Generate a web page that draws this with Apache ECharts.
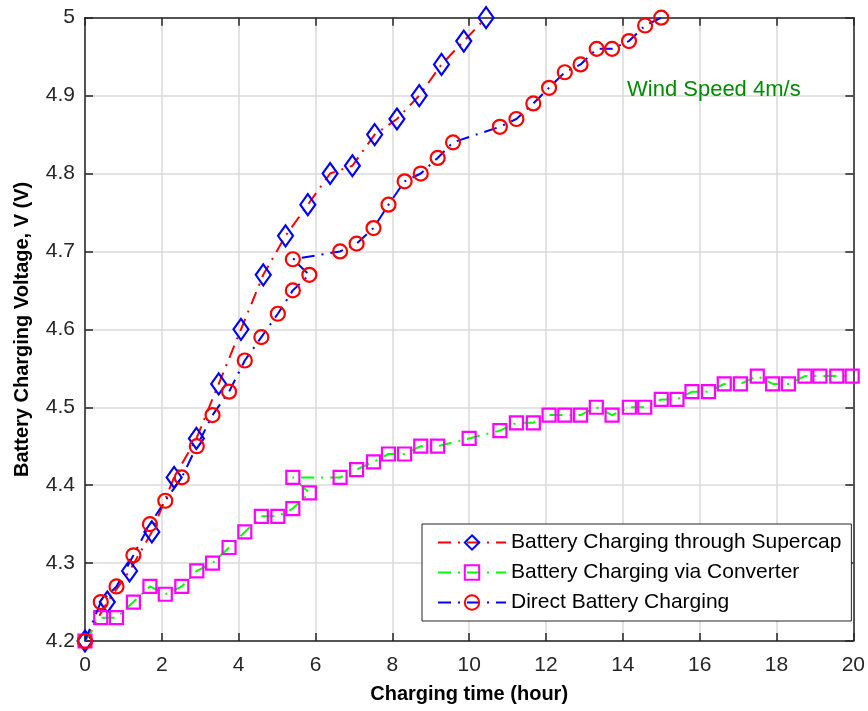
<!DOCTYPE html>
<html>
<head>
<meta charset="utf-8">
<script src="https://cdn.jsdelivr.net/npm/echarts@6/dist/echarts.min.js"></script>
<style>
html,body{margin:0;padding:0;background:#fff;}
#chart{width:868px;height:711px;}
</style>
</head>
<body>
<div id="chart"></div>
<script>
// Battery Charging through Supercap
var supercapX = [0, 0.58, 1.16, 1.74, 2.32, 2.90, 3.48, 4.06, 4.64, 5.22, 5.80, 6.38, 6.96, 7.54, 8.12, 8.70, 9.28, 9.86, 10.44];
var supercapY = [4.20, 4.25, 4.29, 4.34, 4.41, 4.46, 4.53, 4.60, 4.67, 4.72, 4.76, 4.80, 4.81, 4.85, 4.87, 4.90, 4.94, 4.97, 5.00];

// Battery Charging via Converter
var converterX = [0, 0.41, 0.82, 1.26, 1.69, 2.09, 2.52, 2.91, 3.32, 3.75, 4.16, 4.59, 5.02, 5.41, 5.84, 5.41, 6.64, 7.07, 7.51, 7.90, 8.32, 8.74, 9.18, 10.00, 10.80, 11.23, 11.67, 12.08, 12.49, 12.90, 13.31, 13.72, 14.17, 14.57, 15.00, 15.41, 15.80, 16.23, 16.64, 17.06, 17.50, 17.90, 18.31, 18.74, 19.13, 19.57, 19.97];
var converterY = [4.20, 4.23, 4.23, 4.25, 4.27, 4.26, 4.27, 4.29, 4.30, 4.32, 4.34, 4.36, 4.36, 4.37, 4.39, 4.41, 4.41, 4.42, 4.43, 4.44, 4.44, 4.45, 4.45, 4.46, 4.47, 4.48, 4.48, 4.49, 4.49, 4.49, 4.50, 4.49, 4.50, 4.50, 4.51, 4.51, 4.52, 4.52, 4.53, 4.53, 4.54, 4.53, 4.53, 4.54, 4.54, 4.54, 4.54];

// Direct Battery Charging
var directX = [0, 0.41, 0.82, 1.26, 1.69, 2.09, 2.52, 2.91, 3.32, 3.75, 4.16, 4.59, 5.02, 5.41, 5.84, 5.41, 6.64, 7.07, 7.51, 7.90, 8.32, 8.74, 9.18, 9.58, 10.80, 11.23, 11.67, 12.08, 12.49, 12.90, 13.32, 13.72, 14.16, 14.58, 15.00];
var directY = [4.20, 4.25, 4.27, 4.31, 4.35, 4.38, 4.41, 4.45, 4.49, 4.52, 4.56, 4.59, 4.62, 4.65, 4.67, 4.69, 4.70, 4.71, 4.73, 4.76, 4.79, 4.80, 4.82, 4.84, 4.86, 4.87, 4.89, 4.91, 4.93, 4.94, 4.96, 4.96, 4.97, 4.99, 5.00];

var seriesNames = ['Battery Charging through Supercap', 'Battery Charging via Converter', 'Direct Battery Charging'];
var xTicks = {min: 0, max: 20, interval: 2};
var yTicks = {min: 4.2, max: 5, interval: 0.1};
var annotation = 'Wind Speed 4m/s';

function zip(xs, ys) { return xs.map(function (x, i) { return [x, ys[i]]; }); }

var font = 'Arial, "Liberation Sans", Helvetica, sans-serif';
var dashDot = [13, 7, 2, 7];
var axisColor = '#262626';

var chart = echarts.init(document.getElementById('chart'), null, {renderer: 'canvas'});

function mkSeries(name, data, lineColor, symbol, size, markColor, z) {
  return {
    name: name, type: 'line', data: data, xAxisIndex: 0, yAxisIndex: 0,
    symbol: symbol, symbolSize: size, showAllSymbol: true,
    lineStyle: {color: lineColor, width: 2, type: dashDot},
    itemStyle: {color: 'rgba(255,255,255,0)', borderColor: markColor, borderWidth: 2.2},
    emphasis: {disabled: true}, animation: false, z: z
  };
}

var option = {
  backgroundColor: '#fff',
  animation: false,
  grid: {left: 85, right: 13, top: 17.7, bottom: 70, containLabel: false},
  xAxis: [{
    type: 'value', min: xTicks.min, max: xTicks.max, interval: xTicks.interval,
    position: 'bottom',
    name: 'Charging time (hour)', nameLocation: 'middle', nameGap: 43,
    nameTextStyle: {fontFamily: font, fontWeight: 'bold', fontSize: 20, color: '#000'},
    axisLine: {show: true, onZero: false, lineStyle: {color: axisColor, width: 1.5}},
    axisTick: {show: true, inside: true, length: 8, lineStyle: {color: axisColor, width: 1.5}},
    axisLabel: {fontFamily: font, fontSize: 21, color: axisColor, margin: 14},
    splitLine: {show: true, lineStyle: {color: '#dadada', width: 1.5}}
  }, {
    type: 'value', min: xTicks.min, max: xTicks.max, interval: xTicks.interval,
    position: 'top',
    axisLine: {show: true, onZero: false, lineStyle: {color: axisColor, width: 1.5}},
    axisTick: {show: true, inside: true, length: 8, lineStyle: {color: axisColor, width: 1.5}},
    axisLabel: {show: false}, splitLine: {show: false}
  }],
  yAxis: [{
    type: 'value', min: yTicks.min, max: yTicks.max, interval: yTicks.interval,
    position: 'left',
    name: 'Battery Charging Voltage, V (V)', nameLocation: 'middle', nameGap: 53,
    nameTextStyle: {fontFamily: font, fontWeight: 'bold', fontSize: 20, color: '#000'},
    axisLine: {show: true, onZero: false, lineStyle: {color: axisColor, width: 1.5}},
    axisTick: {show: true, inside: true, length: 8, lineStyle: {color: axisColor, width: 1.5}},
    axisLabel: {fontFamily: font, fontSize: 21, color: axisColor, margin: 10,
      formatter: function (v) { return String(Math.round(v * 10) / 10); }},
    splitLine: {show: true, lineStyle: {color: '#dadada', width: 1.5}}
  }, {
    type: 'value', min: yTicks.min, max: yTicks.max, interval: yTicks.interval,
    position: 'right',
    axisLine: {show: true, onZero: false, lineStyle: {color: axisColor, width: 1.5}},
    axisTick: {show: true, inside: true, length: 8, lineStyle: {color: axisColor, width: 1.5}},
    axisLabel: {show: false}, splitLine: {show: false}
  }],
  legend: {
    orient: 'vertical', left: 422, top: 524,
    data: seriesNames,
    backgroundColor: '#fff', borderColor: '#262626', borderWidth: 1,
    padding: [8, 10, 8, 15], itemGap: 9, itemWidth: 68, itemHeight: 18,
    textStyle: {fontFamily: font, fontSize: 21, color: '#000'},
    selectedMode: false
  },
  graphic: [{
    type: 'text', left: 627, top: 79, z: 50,
    style: {text: annotation, fontFamily: font, fontSize: 22, fill: '#008a00'}
  }],
  series: [
    mkSeries(seriesNames[0], zip(supercapX, supercapY), '#ff0000', 'diamond', [15, 21], '#0000ff', 2),
    mkSeries(seriesNames[1], zip(converterX, converterY), '#00ff00', 'rect', 13, '#ff00ff', 3),
    mkSeries(seriesNames[2], zip(directX, directY), '#0000ff', 'circle', 14, '#ff0000', 4)
  ]
};
chart.setOption(option);
</script>
</body>
</html>
